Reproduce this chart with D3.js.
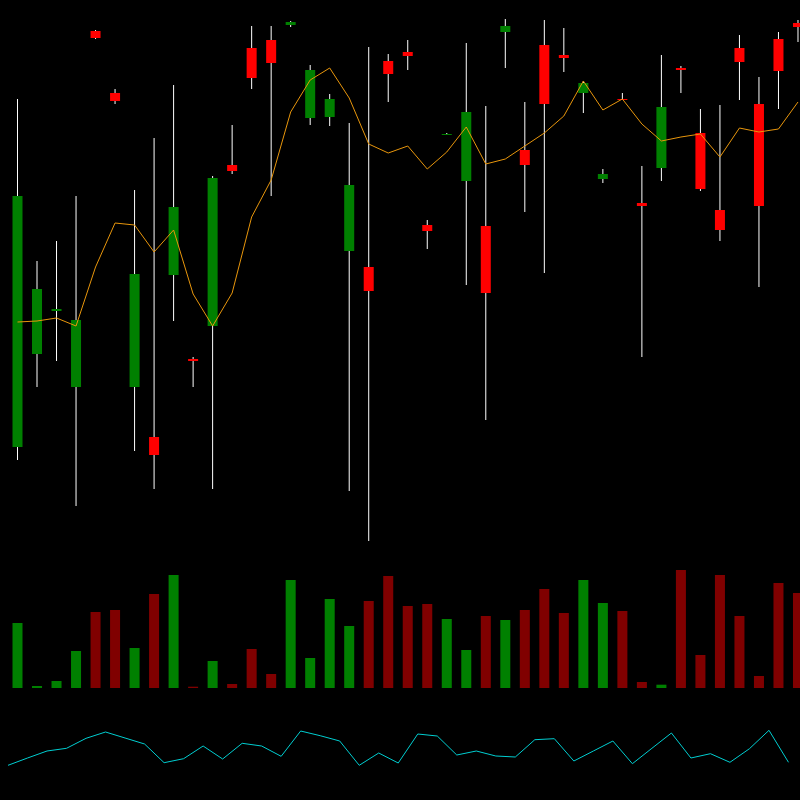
<!DOCTYPE html>
<html>
<head>
<meta charset="utf-8">
<script src="https://cdn.jsdelivr.net/npm/d3@7"></script>
<style>
html,body{margin:0;padding:0;background:#000;}
svg{display:block;}
</style>
</head>
<body>
<svg id="chart" width="800" height="800"></svg>
<script>
// ---- data ----
const opens  = [15.3,24.6,28.9,21.3,56.9,50.7,21.3,16.3,32.5,24.1,27.4,43.5,55.2,56.0,57.5,48.2,48.3,34.9,33.3,53.9,54.8,37.5,46.5,41.9,37.4,56.8,45.0,55.5,54.5,50.7,42.1,50.1,39.7,43.2,53.2,46.7,39.0,55.2,49.6,56.1,57.7];
const closes = [40.4,31.1,29.1,28.0,56.2,49.9,32.6,14.5,39.3,23.9,42.2,42.9,52.2,53.7,57.8,53.0,50.1,41.5,30.9,52.6,54.4,36.9,46.6,48.8,30.7,57.4,43.5,49.6,54.2,51.7,42.6,50.05,39.4,49.3,53.0,41.1,37.0,53.8,39.4,52.9,57.3];
const highs  = [50.1,33.9,35.9,40.4,57.0,51.1,41.0,46.2,51.5,24.3,42.4,47.5,57.4,57.4,57.9,53.5,50.6,47.7,55.3,54.6,56.0,38.0,46.7,55.7,49.4,58.1,49.8,58.0,57.2,51.9,43.1,50.7,43.4,54.5,53.4,49.1,49.5,56.5,52.3,56.8,58.0];
const lows   = [14.0,21.3,23.9,9.4,56.1,49.6,14.9,11.1,27.9,21.3,11.1,42.6,51.1,40.4,57.3,47.5,47.4,10.9,5.9,49.8,53.0,35.1,46.5,31.5,18.0,53.2,38.8,32.7,52.8,48.7,41.7,50.1,24.3,41.9,50.7,40.9,35.9,50.0,31.3,49.1,55.8];
const maLine = [27.8,27.9,28.2,27.4,33.3,37.7,37.5,34.8,37.0,30.6,27.4,30.7,38.3,42.0,48.8,52.0,53.2,50.2,45.6,44.7,45.4,43.1,44.8,47.3,43.6,44.1,45.4,46.7,48.4,51.9,49.0,50.1,47.6,45.9,46.3,46.6,44.3,47.2,46.8,47.1,49.8];
const volumes = [65,2,7,37,76,78,40,94,113,1.3,27,4,39,14,108,30,89,62,87,112,82,84,69,38,72,68,78,99,75,108,85,77,6,3.3,118,33,113,72,12,105,95];
const oscillator = [34.7,42,49,51.7,61.7,68,62,56,37.3,41.3,54,41,56.7,54,43.7,69,64.3,59,34.7,47,37,66,64,45,49,44,43,60.3,61.3,39,49,59,36.3,51.7,67,42,46.3,37.7,51.3,69.7,37.7];

const idx = d3.range(opens.length);
const candles = idx.map(i => ({i, o: opens[i], c: closes[i], h: highs[i], l: lows[i], v: volumes[i]}));

// ---- scales ----
const svg = d3.select("#chart");
svg.append("rect").attr("width", 800).attr("height", 800).attr("fill", "#000");

const step = 800 / 41;
const x = d3.scaleLinear().domain([0, 41]).range([17.5, 17.5 + 800]);
const xOsc = d3.scaleLinear().domain([0, 40]).range([8, 8 + 40 * step]);
const yPrice = d3.scaleLinear().domain([0, 60]).range([600, 0]);
const yVol = d3.scaleLinear().domain([0, 120]).range([688, 568]);
const yOsc = d3.scaleLinear().domain([0, 100]).range([800, 700]);

const bodyW = 10;
const up = d => d.c >= d.o;

// wicks
svg.append("g").selectAll("line").data(candles).join("line")
  .attr("x1", d => x(d.i))
  .attr("x2", d => x(d.i))
  .attr("y1", d => yPrice(d.h))
  .attr("y2", d => yPrice(d.l))
  .attr("stroke", "#ffffff")
  .attr("stroke-width", 1);

// bodies
svg.append("g").selectAll("rect").data(candles).join("rect")
  .attr("x", d => x(d.i) - bodyW / 2)
  .attr("width", bodyW)
  .attr("y", d => yPrice(Math.max(d.o, d.c)))
  .attr("height", d => Math.max(1, Math.abs(yPrice(d.o) - yPrice(d.c))))
  .attr("fill", d => up(d) ? "#008000" : "#ff0000");

// moving average line
svg.append("path")
  .datum(maLine)
  .attr("fill", "none")
  .attr("stroke", "#e8960c")
  .attr("stroke-width", 1)
  .attr("d", d3.line().x((d, i) => x(i)).y(d => yPrice(d)));

// volume bars
svg.append("g").selectAll("rect").data(candles).join("rect")
  .attr("x", d => x(d.i) - bodyW / 2)
  .attr("width", bodyW)
  .attr("y", d => yVol(d.v))
  .attr("height", d => yVol(0) - yVol(d.v))
  .attr("fill", d => up(d) ? "#008000" : "#800000");

// oscillator line
svg.append("path")
  .datum(oscillator)
  .attr("fill", "none")
  .attr("stroke", "#00ced1")
  .attr("stroke-width", 1)
  .attr("d", d3.line().x((d, i) => xOsc(i)).y(d => yOsc(d)));
</script>
</body>
</html>
